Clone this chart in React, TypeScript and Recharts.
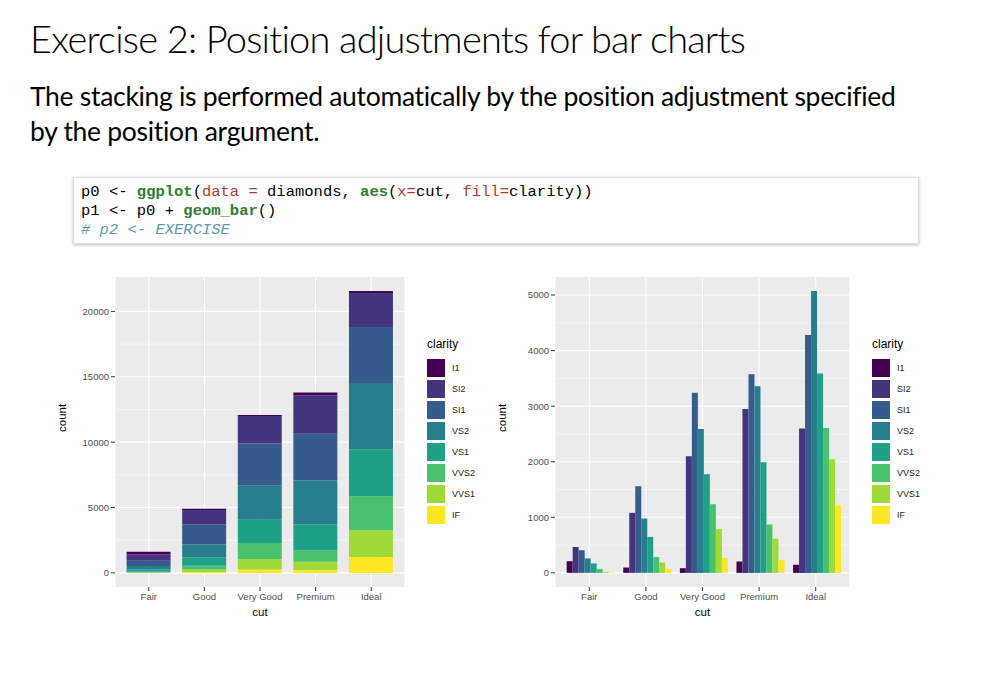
import React from 'react';
import { BarChart, Bar, XAxis, YAxis, CartesianGrid } from 'recharts';

const cuts = ['Fair', 'Good', 'Very Good', 'Premium', 'Ideal'];
const clarities = ['I1', 'SI2', 'SI1', 'VS2', 'VS1', 'VVS2', 'VVS1', 'IF'];
const colors = ['#440154', '#46337E', '#365C8D', '#277F8E', '#1FA187', '#4AC16D', '#A0DA39', '#FDE725'];

const I1 = [210, 96, 84, 205, 146];
const SI2 = [466, 1081, 2100, 2949, 2598];
const SI1 = [408, 1560, 3240, 3575, 4282];
const VS2 = [261, 978, 2591, 3357, 5071];
const VS1 = [170, 648, 1775, 1989, 3589];
const VVS2 = [69, 286, 1235, 870, 2606];
const VVS1 = [17, 186, 789, 616, 2047];
const IF = [9, 71, 268, 230, 1212];
const series = [I1, SI2, SI1, VS2, VS1, VVS2, VVS1, IF];

const stackTicks = [0, 5000, 10000, 15000, 20000];
const stackMinor = [2500, 7500, 12500, 17500];
const dodgeTicks = [0, 1000, 2000, 3000, 4000, 5000];
const dodgeMinor = [500, 1500, 2500, 3500, 4500];

const data = cuts.map((cut, i) => {
  const row: Record<string, string | number> = { cut };
  clarities.forEach((c, k) => (row[c] = series[k][i]));
  return row;
});

const tickStyle = { fill: '#4D4D4D', fontSize: 9.5, fontFamily: 'Liberation Sans' };

function Legend({ left }: { left: number }) {
  return (
    <div style={{ position: 'absolute', left, top: 337, fontFamily: 'Liberation Sans' }}>
      <div style={{ fontSize: 12, marginBottom: 6 }}>clarity</div>
      {clarities.map((c, k) => (
        <div key={c} style={{ display: 'flex', alignItems: 'center', height: 21 }}>
          <div style={{ width: 18, height: 18, background: colors[k] }} />
          <span style={{ fontSize: 9, marginLeft: 7, color: '#222' }}>{c}</span>
        </div>
      ))}
    </div>
  );
}

function Panel({ stacked }: { stacked: boolean }) {
  const ticks = stacked ? stackTicks : dodgeTicks;
  const minor = stacked ? stackMinor : dodgeMinor;
  const domain = stacked ? [-1078, 22629] : [-254, 5325];
  const order = stacked ? [...clarities].reverse() : clarities;
  return (
    <BarChart
      width={stacked ? 380 : 385}
      height={367}
      data={data}
      margin={{ top: 12, right: 15, bottom: 5, left: 20 }}
      barCategoryGap="10%"
      barGap={0}
    >
      <CartesianGrid fill="#EBEBEB" stroke="#fff" strokeWidth={0.5} vertical={false} horizontalValues={minor} />
      <CartesianGrid stroke="#fff" strokeWidth={1.1} horizontalValues={ticks} />
      <XAxis
        dataKey="cut"
        padding={{ left: 6, right: 6 }}
        axisLine={false}
        tickLine={{ stroke: '#333' }}
        tickSize={4}
        tick={tickStyle}
        interval={0}
        height={40}
        label={{ value: 'cut', position: 'insideBottom', offset: 11, fontSize: 11.5, fill: '#000', fontFamily: 'Liberation Sans' }}
      />
      <YAxis
        type="number"
        domain={domain}
        ticks={ticks}
        allowDataOverflow
        width={55}
        axisLine={false}
        tickLine={{ stroke: '#333' }}
        tickSize={4}
        tick={tickStyle}
        label={{ value: 'count', angle: -90, position: 'insideLeft', offset: 2, fontSize: 11.5, fill: '#000', fontFamily: 'Liberation Sans' }}
      />
      {order.map((c) => (
        <Bar
          key={c}
          dataKey={c}
          stackId={stacked ? 'a' : undefined}
          fill={colors[clarities.indexOf(c)]}
          isAnimationActive={false}
        />
      ))}
    </BarChart>
  );
}

export default function App() {
  return (
    <div style={{ position: 'absolute', left: 0, top: 0, width: 987, height: 686, background: '#fff', fontFamily: 'Lato' }}>
      <div style={{ position: 'absolute', left: 30, top: 15, fontSize: 38, fontWeight: 300, letterSpacing: -0.8, whiteSpace: 'nowrap' }}>
        Exercise 2: Position adjustments for bar charts
      </div>
      <div style={{ position: 'absolute', left: 30, top: 79, width: 940, fontSize: 26.5, lineHeight: '35px', letterSpacing: -0.3 }}>
        The stacking is performed automatically by the position adjustment specified<br />by the position argument.
      </div>
      <div
        style={{
          position: 'absolute', left: 73, top: 177, width: 830, height: 55, padding: '5px 7px',
          border: '1px solid #ddd', boxShadow: '0 1px 3px rgba(0,0,0,0.25)',
          fontFamily: 'Liberation Mono', fontSize: 15.5, lineHeight: '19px', whiteSpace: 'pre',
        }}
      >
        <div>p0 {'<-'} <b style={{ color: '#2E7D32' }}>ggplot</b>(<span style={{ color: '#B03A2E' }}>data =</span> diamonds, <b style={{ color: '#2E7D32' }}>aes</b>(<span style={{ color: '#B03A2E' }}>x=</span>cut, <span style={{ color: '#B03A2E' }}>fill=</span>clarity))</div>
        <div>p1 {'<-'} p0 + <b style={{ color: '#2E7D32' }}>geom_bar</b>()</div>
        <div style={{ color: '#5A9BB0', fontStyle: 'italic' }}># p2 {'<-'} EXERCISE</div>
      </div>
      <div style={{ position: 'absolute', left: 40, top: 265 }}>
        <Panel stacked />
      </div>
      <Legend left={427} />
      <div style={{ position: 'absolute', left: 480, top: 265 }}>
        <Panel stacked={false} />
      </div>
      <Legend left={872} />
    </div>
  );
}
